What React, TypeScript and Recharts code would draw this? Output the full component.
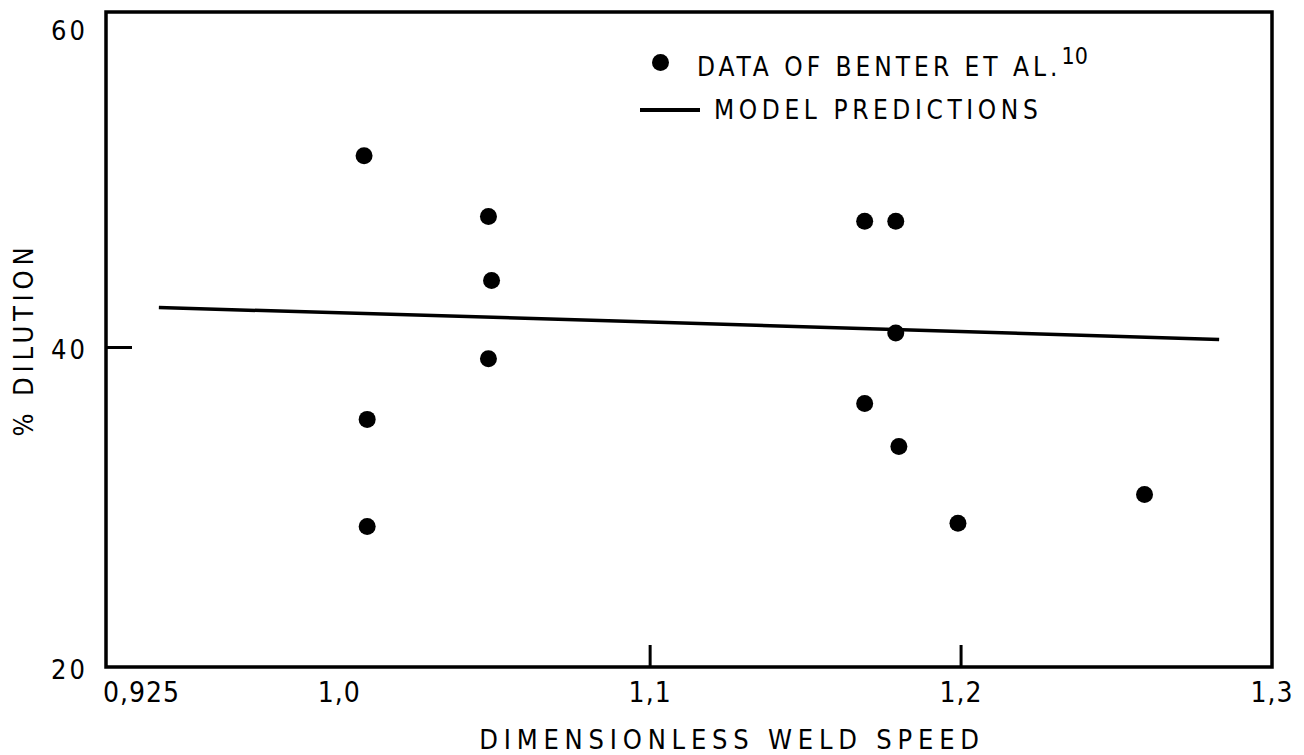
import { ScatterChart, Scatter, XAxis, YAxis, ReferenceArea } from "recharts";

// measured points (Benter et al.)
const SPEED = [1.008, 1.009, 1.009, 1.048, 1.049, 1.048, 1.169, 1.179, 1.179, 1.169, 1.18, 1.199, 1.259];
const DILUTION = [52.0, 35.5, 28.8, 48.2, 44.2, 39.3, 47.9, 47.9, 40.9, 36.5, 33.8, 29.0, 30.8];

// model prediction line
const MODEL_SPEED = [0.942, 1.1, 1.283];
const MODEL_DILUTION = [42.5, 41.6, 40.5];

const X_TICKS = [0.925, 1.0, 1.1, 1.2, 1.3];
const X_MARKS = [1.1, 1.2];
const Y_TICKS = [20, 40, 60];
const Y_MARKS = [40];

const FONT = '"DejaVu Sans Condensed", "DejaVu Sans", sans-serif';

const points = SPEED.map((x, i) => ({ x, y: DILUTION[i] }));
const model = MODEL_SPEED.map((x, i) => ({ x, y: MODEL_DILUTION[i] }));

const fmtX = (v: number) => (v === 0.925 ? "0,925" : v.toFixed(1).replace(".", ","));

const XTick = (props: any) => {
  const { x, y, payload } = props;
  const v = payload.value;
  const first = v === X_TICKS[0];
  return (
    <g>
      {X_MARKS.includes(v) && <line x1={x} x2={x} y1={y} y2={y - 22} stroke="#000" strokeWidth={3} />}
      <text
        x={first ? x - 3 : x}
        y={y + 35}
        textAnchor={first ? "start" : "middle"}
        fontFamily={FONT}
        fontSize={28}
        letterSpacing={1}
        fill="#000"
      >
        {fmtX(v)}
      </text>
    </g>
  );
};

const YTick = (props: any) => {
  const { x, y, payload } = props;
  const v = payload.value;
  return (
    <g>
      {Y_MARKS.includes(v) && <line x1={x} x2={x + 26} y1={y} y2={y} stroke="#000" strokeWidth={3} />}
      <text x={x - 18} y={y + 12} textAnchor="end" fontFamily={FONT} fontSize={27} letterSpacing={3} fill="#000">
        {v}
      </text>
    </g>
  );
};

const Dot = (props: any) => <circle cx={props.cx} cy={props.cy} r={8.5} fill="#000" />;

export default function App() {
  return (
    <div style={{ position: "absolute", left: 0, top: 0, width: 1304, height: 755, background: "#fff" }}>
      <ScatterChart width={1304} height={755} margin={{ top: 12, right: 32, left: 0, bottom: 0 }}>
        <XAxis
          type="number"
          dataKey="x"
          domain={[0.925, 1.3]}
          ticks={X_TICKS}
          interval={0}
          allowDataOverflow
          height={88}
          axisLine={false}
          tickLine={false}
          tickSize={0}
          tickMargin={0}
          tick={<XTick />}
          label={{
            value: "DIMENSIONLESS WELD SPEED",
            position: "insideBottom",
            offset: 6,
            dx: 43,
            style: { fontFamily: FONT, fontSize: 27, letterSpacing: 5.8, fill: "#000" },
          }}
        />
        <YAxis
          type="number"
          dataKey="y"
          domain={[20, 61]}
          ticks={Y_TICKS}
          interval={0}
          allowDataOverflow
          width={106}
          axisLine={false}
          tickLine={false}
          tickSize={0}
          tickMargin={0}
          tick={<YTick />}
          label={{
            value: "% DILUTION",
            angle: -90,
            position: "insideLeft",
            offset: 23,
            style: { fontFamily: FONT, fontSize: 27, letterSpacing: 4.8, fill: "#000", textAnchor: "middle" },
          }}
        />
        <ReferenceArea x1={0.925} x2={1.3} y1={20} y2={61} fill="none" stroke="#000" strokeWidth={3.5} />
        <Scatter
          data={model}
          line={{ stroke: "#000", strokeWidth: 3.5 }}
          shape={() => <g />}
          isAnimationActive={false}
        />
        <Scatter data={points} shape={<Dot />} isAnimationActive={false} />
      </ScatterChart>

      {/* legend */}
      <div style={{ position: "absolute", left: 640, top: 38, fontFamily: FONT, fontSize: 26, color: "#000" }}>
        <div style={{ display: "flex", alignItems: "center", height: 48 }}>
          <div style={{ width: 17, height: 17, borderRadius: "50%", background: "#000", marginLeft: 12, marginRight: 28 }} />
          <span style={{ letterSpacing: 4 }}>
            DATA OF BENTER ET AL.
            <sup style={{ fontSize: 23, letterSpacing: 0, verticalAlign: "0.5em" }}>10</sup>
          </span>
        </div>
        <div style={{ display: "flex", alignItems: "center", height: 48 }}>
          <div style={{ width: 60, height: 3.5, background: "#000", marginLeft: 0, marginRight: 14 }} />
          <span style={{ letterSpacing: 4.6 }}>MODEL PREDICTIONS</span>
        </div>
      </div>
    </div>
  );
}
